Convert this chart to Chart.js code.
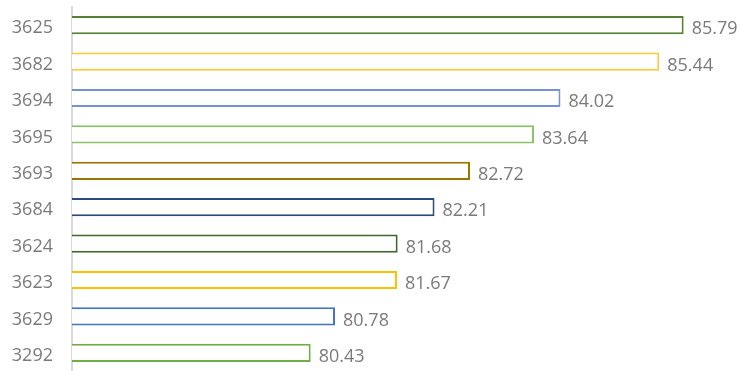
<!DOCTYPE html>
<html>
<head>
<meta charset="utf-8">
<script src="https://cdn.jsdelivr.net/npm/chart.js@4"></script>
<style>
    html, body { margin: 0; padding: 0; background: #ffffff; overflow: hidden; }
    canvas { display: block; }
</style>
</head>
<body>
<canvas id="barChart" width="740" height="371"></canvas>
<script>
// chart data
const categories = ["3625", "3682", "3694", "3695", "3693", "3684", "3624", "3623", "3629", "3292"];
const values = [85.79, 85.44, 84.02, 83.64, 82.72, 82.21, 81.68, 81.67, 80.78, 80.43];
const barColors = ["#548235", "#FFC83A", "#7394D4", "#8CC168", "#9C7400", "#2A4A80", "#43682B", "#FFC000", "#4472C4", "#70AD47"];

// draw value labels at the end of each bar
const valueLabels = {
    id: "valueLabels",
    afterDatasetsDraw(chart) {
        const ctx = chart.ctx;
        const meta = chart.getDatasetMeta(0);
        ctx.save();
        ctx.font = "18px 'Open Sans'";
        ctx.fillStyle = "#7a7a7a";
        ctx.textAlign = "left";
        ctx.textBaseline = "middle";
        meta.data.forEach((bar, i) => {
            ctx.fillText(values[i].toFixed(2), bar.x + 8, bar.y + 4);
        });
        ctx.restore();
    }
};

const ctx = document.getElementById("barChart").getContext("2d");
new Chart(ctx, {
    type: "bar",
    data: {
        labels: categories,
        datasets: [{
            data: values,
            backgroundColor: "#ffffff",
            borderColor: barColors,
            borderWidth: 2,
            borderSkipped: false,
            barPercentage: 0.5,
            categoryPercentage: 1
        }]
    },
    options: {
        indexAxis: "y",
        responsive: false,
        animation: false,
        layout: { padding: { top: 7, right: 0, bottom: 0, left: 0 } },
        plugins: {
            legend: { display: false },
            tooltip: { enabled: false }
        },
        scales: {
            x: {
                display: false,
                min: 77,
                max: 86.6
            },
            y: {
                afterFit: scale => {
                    scale.width = 72;
                    scale.paddingTop = 0;
                    scale.paddingBottom = 0;
                },
                grid: { display: false, drawTicks: false },
                border: { display: true, color: "#d9d9d9", width: 2 },
                ticks: {
                    padding: 19,
                    labelOffset: 3,
                    color: "#7a7a7a",
                    font: { family: "'Open Sans'", size: 18 }
                }
            }
        }
    },
    plugins: [valueLabels]
});
</script>
</body>
</html>
